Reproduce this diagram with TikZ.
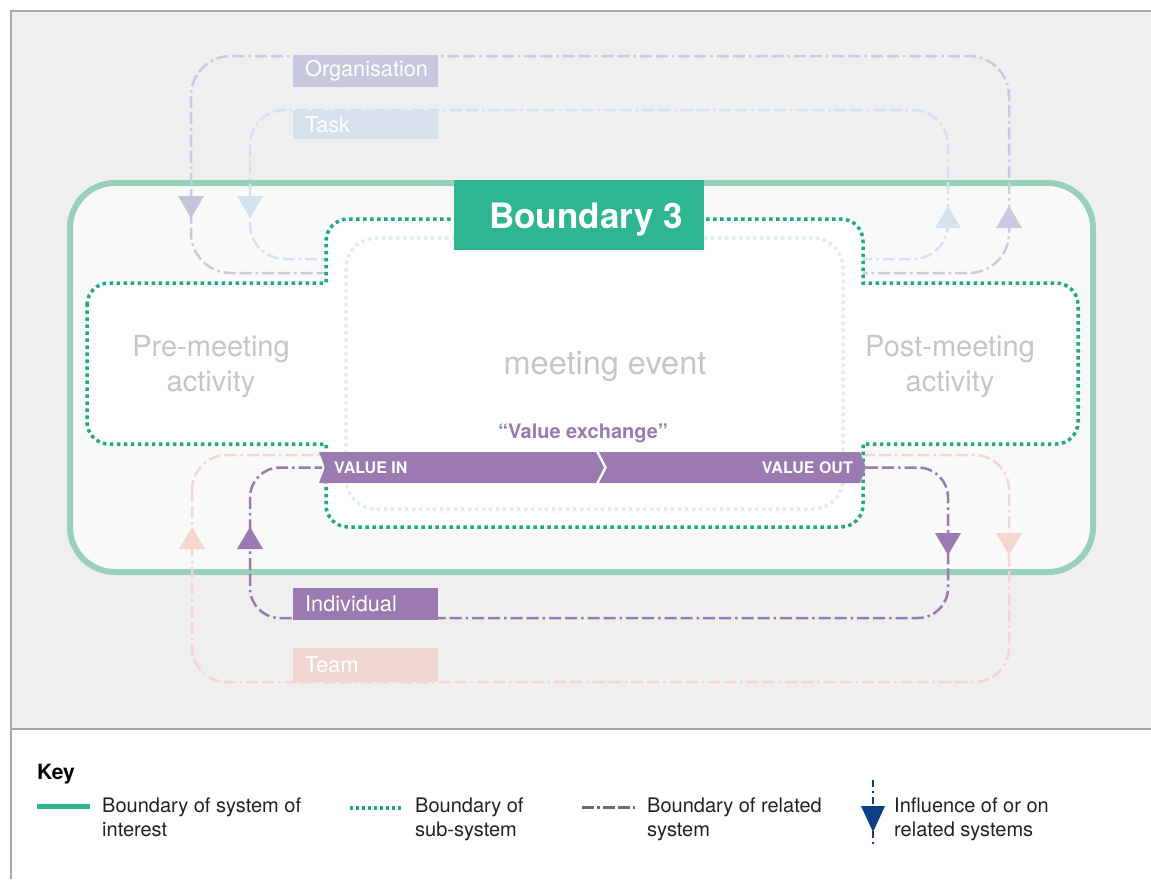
\documentclass[tikz,border=0pt]{standalone}
\usepackage{fontspec}
\setmainfont{TeX Gyre Heros}
\definecolor{bggray}{HTML}{EFEFEF}
\definecolor{framegray}{HTML}{A8A8A8}
\definecolor{soiline}{HTML}{98D0B8}
\definecolor{soifill}{HTML}{F9F9F9}
\definecolor{tealbox}{HTML}{2EB592}
\definecolor{subdot}{HTML}{1FAA85}
\definecolor{lightdot}{HTML}{DDF0EA}
\definecolor{purp}{HTML}{9B79B1}
\definecolor{orgc}{HTML}{C8CADF}
\definecolor{taskc}{HTML}{D6E1EE}
\definecolor{teamc}{HTML}{F4D5CF}
\definecolor{orgbox}{HTML}{C6C9DD}
\definecolor{taskbox}{HTML}{D6E1EC}
\definecolor{teambox}{HTML}{EFD6D0}
\definecolor{ghost}{HTML}{C6C6C6}
\definecolor{keyblue}{HTML}{0C3F84}
\definecolor{keygray}{HTML}{6E6E6E}
\definecolor{keytext}{HTML}{222222}
\tikzset{
  related/.style={line width=2.5pt, dash pattern=on 12pt off 4pt on 12pt off 4pt on 2.5pt off 4pt},
  subdots/.style={line width=3.5pt, dash pattern=on 3.5pt off 3.5pt},
  labelbox/.style={anchor=north west, minimum width=145pt, minimum height=32pt, text width=121pt, inner xsep=12pt, inner ysep=0pt, align=left, text=white, font=\fontsize{21.7}{21.7}\selectfont},
  ghosttext/.style={text=ghost, inner sep=0pt, align=center},
  keylabel/.style={anchor=north west, inner sep=0pt, align=left, text=keytext, font=\fontsize{20}{24}\selectfont},
  tri/.style={draw=none},
}
\begin{document}
\begin{tikzpicture}[x=1pt,y=-1pt]
\useasboundingbox (0,0) rectangle (1151,879);
% frame
\fill[white] (0,0) rectangle (1151,879);
\fill[bggray] (11,11) rectangle (1151,729);
\draw[framegray, line width=1.5pt] (1151,11) -- (11,11) -- (11,879);
\draw[framegray, line width=1.2pt] (11,729) -- (1151,729);

% system of interest
\draw[soiline, fill=soifill, line width=6pt, rounded corners=45pt] (70,183) rectangle (1093,572);

% related systems loops
\draw[orgc, related, rounded corners=40pt] (191,56) rectangle (1009,273);
\draw[taskc, related, rounded corners=35pt] (250,110) rectangle (948,259);
\draw[teamc, related, rounded corners=35pt] (192,455) rectangle (1009,682);

% sub-system white fill
\fill[white] (87,305) .. controls (87,292.9) and (96.9,283) .. (109,283) -- (326,283) -- (326,241)
  .. controls (326,228.9) and (335.9,219) .. (348,219) -- (841,219)
  .. controls (853.1,219) and (863,228.9) .. (863,241) -- (863,283) -- (1056,283)
  .. controls (1068.1,283) and (1078,292.9) .. (1078,305) -- (1078,422)
  .. controls (1078,434.1) and (1068.1,444) .. (1056,444) -- (863,444) -- (863,505)
  .. controls (863,517.1) and (853.1,527) .. (841,527) -- (348,527)
  .. controls (335.9,527) and (326,517.1) .. (326,505) -- (326,444) -- (109,444)
  .. controls (96.9,444) and (87,434.1) .. (87,422) -- cycle;
% inner light dotted
\draw[lightdot, subdots, rounded corners=30pt] (346,238) rectangle (843,509);
% sub-system dotted outline
\draw[subdot, subdots] (87,305) .. controls (87,292.9) and (96.9,283) .. (109,283) -- (326,283) -- (326,241)
  .. controls (326,228.9) and (335.9,219) .. (348,219) -- (841,219)
  .. controls (853.1,219) and (863,228.9) .. (863,241) -- (863,283) -- (1056,283)
  .. controls (1068.1,283) and (1078,292.9) .. (1078,305) -- (1078,422)
  .. controls (1078,434.1) and (1068.1,444) .. (1056,444) -- (863,444) -- (863,505)
  .. controls (863,517.1) and (853.1,527) .. (841,527) -- (348,527)
  .. controls (335.9,527) and (326,517.1) .. (326,505) -- (326,444) -- (109,444)
  .. controls (96.9,444) and (87,434.1) .. (87,422) -- cycle;

% ghost texts
\node[ghosttext, font=\fontsize{29}{35}\selectfont] (pre) at (211,367) {Pre-meeting\\activity};
\node[ghosttext, font=\fontsize{32.5}{35}\selectfont] (evt) at (605,367) {meeting event};
\node[ghosttext, font=\fontsize{29}{35}\selectfont] (post) at (950,367) {Post-meeting\\activity};

% boundary 3 label
\fill[tealbox] (454,180) rectangle (704,250);
\node[text=white, inner sep=0pt, font=\fontsize{35}{35}\selectfont\bfseries] (b3) at (586,220) {Boundary 3};

% value exchange
\node[text=purp, inner sep=0pt, font=\fontsize{20}{20}\selectfont\bfseries] (vx) at (583,433) {“Value exchange”};
\fill[purp] (319,452) -- (596,452) -- (604,467.5) -- (596,483) -- (319,483) -- (325,467.5) -- cycle;
\fill[purp] (599,452) -- (860,452) -- (866,467.5) -- (860,483) -- (599,483) -- (607,467.5) -- cycle;
\node[anchor=west, text=white, inner sep=0pt, font=\fontsize{16}{16}\selectfont\bfseries] (vintext) at (334,468) {VALUE IN};
\node[anchor=east, text=white, inner sep=0pt, font=\fontsize{16}{16}\selectfont\bfseries] (vouttext) at (853,468) {VALUE OUT};
\coordinate (vout) at (866,467.5);
\coordinate (vin) at (322,467.5);
\draw[purp, related, rounded corners=30pt] (vout) -- (948,467.5) -- (948,618) -- (250,618) -- (250,467.5) -- (vin);

% labels of related systems
\node[labelbox, fill=orgbox] (org) at (293,55) {Organisation};
\node[labelbox, fill=taskbox, minimum height=29pt] (task) at (293,110) {Task};
\node[labelbox, fill=purp] (ind) at (293,588) {Individual};
\node[labelbox, fill=teambox, minimum height=34pt] (team) at (293,648) {Team};

% influence triangles
\fill[orgc!85!black!20!orgc] (178,196) -- (204,196) -- (191,218) -- cycle;
\fill[taskc] (237,196) -- (263,196) -- (250,218) -- cycle;
\fill[taskc] (935,228) -- (961,228) -- (948,206) -- cycle;
\fill[orgc] (996,228) -- (1022,228) -- (1009,206) -- cycle;
\fill[purp] (237,549) -- (263,549) -- (250,527) -- cycle;
\fill[teamc] (179,549) -- (205,549) -- (192,527) -- cycle;
\fill[purp] (935,533) -- (961,533) -- (948,555) -- cycle;
\fill[teamc] (996,533) -- (1022,533) -- (1009,555) -- cycle;

% key
\node[anchor=west, inner sep=0pt, text=black, font=\fontsize{21}{21}\selectfont\bfseries] (key) at (37,774) {Key};
\draw[tealbox, line width=5pt] (37,806) -- (90,806);
\node[keylabel] (k1) at (102,798) {Boundary of system of\\interest};
\draw[subdot, line width=3.5pt, dash pattern=on 3pt off 3pt] (350,808) -- (403,808);
\node[keylabel] (k2) at (415,798) {Boundary of\\sub-system};
\draw[keygray, line width=3pt, dash pattern=on 12pt off 3pt on 3pt off 3pt on 12pt off 3pt] (582,807) -- (635,807);
\node[keylabel] (k3) at (647,798) {Boundary of related\\system};
\draw[keyblue, line width=2pt, dash pattern=on 7pt off 4pt on 2pt off 4pt] (873,780) -- (873,846);
\fill[keyblue] (861,806) -- (885,806) -- (873,832) -- cycle;
\node[keylabel] (k4) at (894,798) {Influence of or on\\related systems};
\end{tikzpicture}
\end{document}
